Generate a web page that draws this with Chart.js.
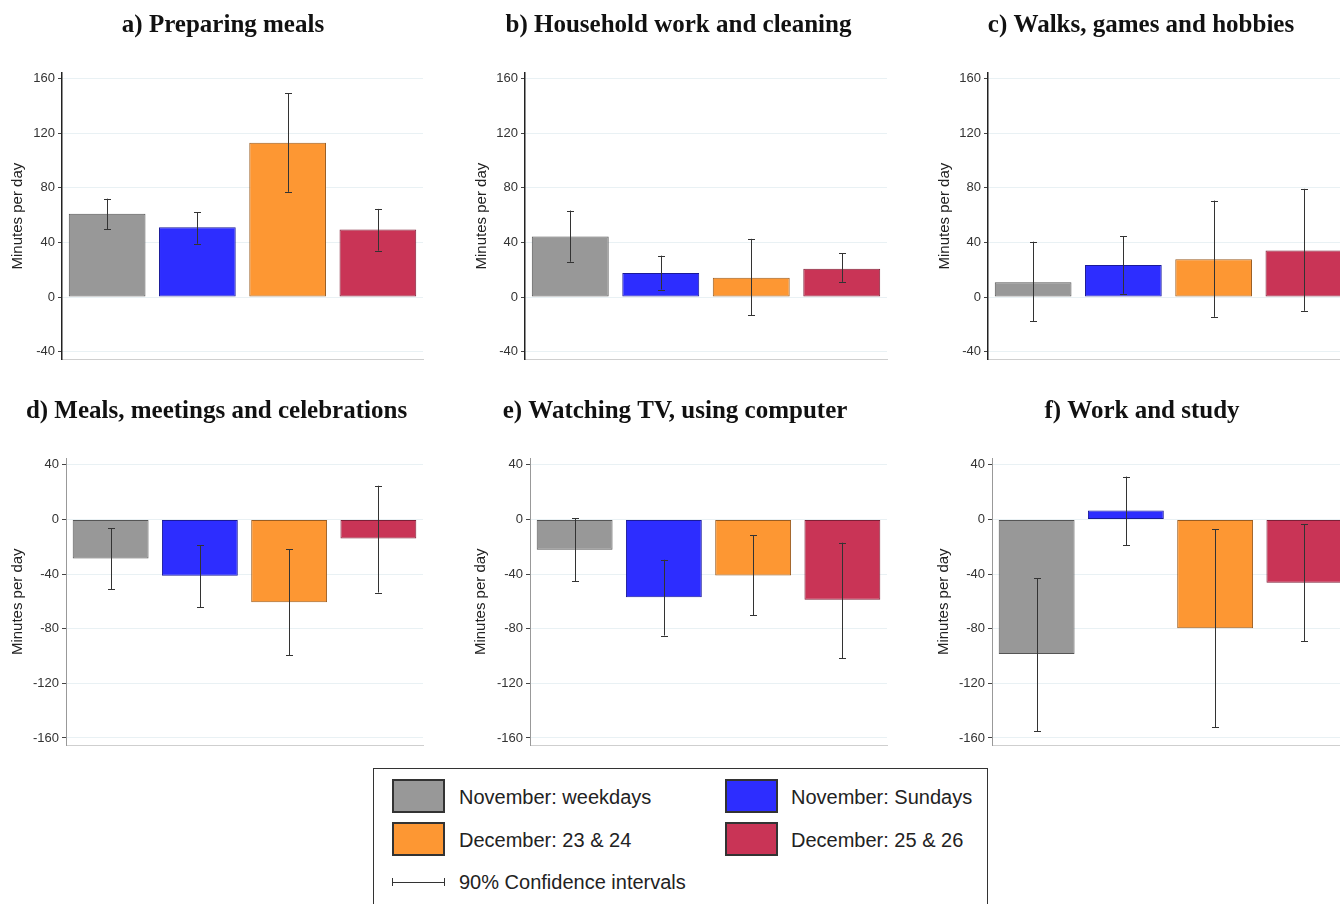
<!DOCTYPE html>
<html><head><meta charset="utf-8">
<script src="https://cdn.jsdelivr.net/npm/chart.js@4.4.0/dist/chart.umd.min.js"></script>
<style>
html,body{margin:0;padding:0;background:#fff;width:1340px;height:904px;overflow:hidden;position:relative;}
.panel{position:absolute;}
#legend{position:absolute;left:373px;top:768px;width:615px;height:150px;border:1px solid #333;box-sizing:border-box;font-family:'Liberation Sans',Arial,sans-serif;font-size:20px;color:#222;}
.sw{position:absolute;width:53px;height:34px;border:2px solid #333;box-sizing:border-box;}
.lt{position:absolute;line-height:24px;white-space:nowrap;}
.ci{position:absolute;height:1px;background:#333;}
.cap{position:absolute;width:1px;height:8px;background:#333;}
</style></head><body>
<div id="legend"></div>
<script>
// ---------- data ----------
const categories = ['November: weekdays', 'November: Sundays', 'December: 23 & 24', 'December: 25 & 26'];
const ciLabel = '90% Confidence intervals';
const panelTitles = ['a) Preparing meals', 'b) Household work and cleaning', 'c) Walks, games and hobbies',
                     'd) Meals, meetings and celebrations', 'e) Watching TV, using computer', 'f) Work and study'];
const yAxisTitle = 'Minutes per day';
const topTicks = [-40, 0, 40, 80, 120, 160];
const bottomTicks = [-160, -120, -80, -40, 0, 40];

const mealsValues = [61, 51, 113, 49.5];
const mealsHigh   = [72, 62, 149, 64.5];
const mealsLow    = [49.5, 39, 77, 34];

const houseValues = [44.3, 17.6, 14.2, 20.7];
const houseHigh   = [63.3, 30.3, 42.6, 32];
const houseLow    = [25.8, 5.5, -13.2, 11.1];

const walksValues = [10.8, 23.4, 27.7, 34];
const walksHigh   = [40.5, 44.6, 70.6, 79.2];
const walksLow    = [-17.6, 2.4, -14.5, -10.1];

const celebValues = [-28.6, -41.3, -60.7, -13.9];
const celebHigh   = [-6.5, -19, -21.8, 24.7];
const celebLow    = [-51.1, -64.1, -99.4, -53.5];

const tvValues = [-22.1, -56.9, -41, -58.8];
const tvHigh   = [1, -29.5, -11.5, -17];
const tvLow    = [-45.1, -85, -70.1, -101.8];

const workValues = [-98.6, 6.5, -79.7, -46.3];
const workHigh   = [-43, 31.4, -7.2, -3.4];
const workLow    = [-155, -19, -152, -89];

// ---------- styles ----------
const fillColors   = ['#989898', '#2d2dff', '#fd9733', '#c93456'];
const borderColors = ['#555555', '#1a1a99', '#9a5d22', '#7e1f37'];

const panelData = [
  {v: mealsValues, hi: mealsHigh, lo: mealsLow, ticks: topTicks},
  {v: houseValues, hi: houseHigh, lo: houseLow, ticks: topTicks},
  {v: walksValues, hi: walksHigh, lo: walksLow, ticks: topTicks},
  {v: celebValues, hi: celebHigh, lo: celebLow, ticks: bottomTicks},
  {v: tvValues, hi: tvHigh, lo: tvLow, ticks: bottomTicks},
  {v: workValues, hi: workHigh, lo: workLow, ticks: bottomTicks},
];
// layout: left, top, width, right gap, y-axis width, y-title centre, range
const layout = [
  {L: 0,   T: 0,   W: 446, R: 23, A: 62, yt: 18,   min: -45.5, max: 164, top: 73,   axisCol: '#222', axisW: 1.5},
  {L: 460, T: 0,   W: 437, R: 10, A: 65, yt: 21.7, min: -45.5, max: 164, top: 73,   axisCol: '#222', axisW: 1.5},
  {L: 920, T: 0,   W: 442, R: 13, A: 68, yt: 25,   min: -45.5, max: 164, top: 73,   axisCol: '#222', axisW: 1.5},
  {L: 0,   T: 386, W: 433, R: 10, A: 66, yt: 17.5, min: -165.3, max: 44.8, top: 72.3, axisCol: '#999', axisW: 1},
  {L: 460, T: 386, W: 430, R: 3,  A: 70, yt: 21,   min: -165.3, max: 44.8, top: 72.3, axisCol: '#999', axisW: 1},
  {L: 920, T: 386, W: 444, R: 15, A: 72, yt: 24,   min: -165.3, max: 44.8, top: 72.3, axisCol: '#999', axisW: 1},
];
const H = 370;

const errorBars = {
  id: 'errorBars',
  afterDatasetsDraw(chart, args, opts) {
    const meta = chart.getDatasetMeta(0);
    const ys = chart.scales.y;
    const ctx = chart.ctx;
    ctx.save();
    ctx.strokeStyle = '#333';
    ctx.lineWidth = 1;
    meta.data.forEach((bar, i) => {
      const x = Math.round(bar.x) + 0.5;
      const y1 = ys.getPixelForValue(opts.hi[i]);
      const y2 = ys.getPixelForValue(opts.lo[i]);
      ctx.beginPath();
      ctx.moveTo(x, y1); ctx.lineTo(x, y2);
      ctx.moveTo(x - 3.5, Math.round(y1) + 0.5); ctx.lineTo(x + 3.5, Math.round(y1) + 0.5);
      ctx.moveTo(x - 3.5, Math.round(y2) + 0.5); ctx.lineTo(x + 3.5, Math.round(y2) + 0.5);
      ctx.stroke();
    });
    ctx.restore();
  }
};

panelData.forEach((pd, k) => {
  const g = layout[k];
  const div = document.createElement('div');
  div.className = 'panel';
  div.style.left = g.L + 'px'; div.style.top = g.T + 'px';
  div.style.width = g.W + 'px'; div.style.height = H + 'px';
  const cv = document.createElement('canvas');
  cv.width = g.W; cv.height = H;
  div.appendChild(cv);
  document.body.appendChild(div);
  const chartBottom = (k < 3 ? 363 : 750 - 386);
  const titleSize = 25, titleLH = titleSize * 1.2;
  const padTop = 25.5 - titleLH / 2;
  new Chart(cv, {
    type: 'bar',
    data: {
      labels: categories,
      datasets: [{
        data: pd.v,
        backgroundColor: fillColors,
        borderColor: borderColors,
        borderWidth: 1,
        borderSkipped: false,
        barPercentage: 0.85,
        categoryPercentage: 1
      }]
    },
    options: {
      responsive: false,
      animation: false,
      devicePixelRatio: 1,
      layout: {padding: {left: 0, right: 0, top: 0, bottom: H - chartBottom}},
      plugins: {
        legend: {display: false},
        tooltip: {enabled: false},
        title: {
          display: true,
          text: panelTitles[k],
          color: '#111',
          font: {family: "'Liberation Serif', 'Times New Roman', serif", size: titleSize, weight: 'bold', lineHeight: 1.2},
          padding: {top: padTop, bottom: g.top - padTop - titleLH}
        },
        errorBars: {hi: pd.hi, lo: pd.lo}
      },
      scales: {
        x: {
          type: 'category',
          offset: true,
          grid: {display: false, drawTicks: false},
          ticks: {display: false},
          border: {display: true, color: '#cfcfcf', width: 1},
          afterFit(s) { s.height = 0; }
        },
        y: {
          type: 'linear',
          position: 'left',
          min: g.min, max: g.max,
          afterBuildTicks(s) { s.ticks = pd.ticks.map(v => ({value: v})); },
          grid: {color: '#e9f1f4', lineWidth: 1, tickColor: '#444', tickLength: 4, drawTicks: true},
          border: {display: true, color: g.axisCol, width: g.axisW},
          ticks: {
            color: '#333', padding: 3,
            font: {family: "'Liberation Sans', Arial, sans-serif", size: 13},
            callback: v => String(v)
          },
          title: {
            display: true, text: yAxisTitle, color: '#222',
            font: {family: "'Liberation Sans', Arial, sans-serif", size: 15, lineHeight: 1.2},
            padding: {top: g.yt - 9, bottom: 0}
          },
          afterFit(s) { s.width = g.A; }
        },
        yR: {
          type: 'linear',
          position: 'right',
          display: true,
          grid: {display: false, drawTicks: false},
          border: {display: false},
          ticks: {display: false},
          afterFit(s) { s.width = g.R; }
        }
      }
    },
    plugins: [errorBars]
  });
});

// ---------- legend ----------
const legend = document.getElementById('legend');
const legendPos = [
  {sx: 18, sy: 10, tx: 85, ty: 16},
  {sx: 351, sy: 10, tx: 417, ty: 16},
  {sx: 18, sy: 53, tx: 85, ty: 59},
  {sx: 351, sy: 53, tx: 417, ty: 59},
];
categories.forEach((c, i) => {
  const p = legendPos[i];
  const sw = document.createElement('div');
  sw.className = 'sw';
  sw.style.left = p.sx + 'px'; sw.style.top = p.sy + 'px';
  sw.style.background = fillColors[i];
  legend.appendChild(sw);
  const t = document.createElement('div');
  t.className = 'lt';
  t.style.left = p.tx + 'px'; t.style.top = p.ty + 'px';
  t.textContent = c;
  legend.appendChild(t);
});
const ciLine = document.createElement('div'); ciLine.className = 'ci';
ciLine.style.left = '18px'; ciLine.style.top = '113px'; ciLine.style.width = '53px';
legend.appendChild(ciLine);
[18, 70].forEach(x => {
  const cp = document.createElement('div'); cp.className = 'cap';
  cp.style.left = x + 'px'; cp.style.top = '109px';
  legend.appendChild(cp);
});
const ciT = document.createElement('div'); ciT.className = 'lt';
ciT.style.left = '85px'; ciT.style.top = '101px'; ciT.textContent = ciLabel;
legend.appendChild(ciT);
</script>
</body></html>
